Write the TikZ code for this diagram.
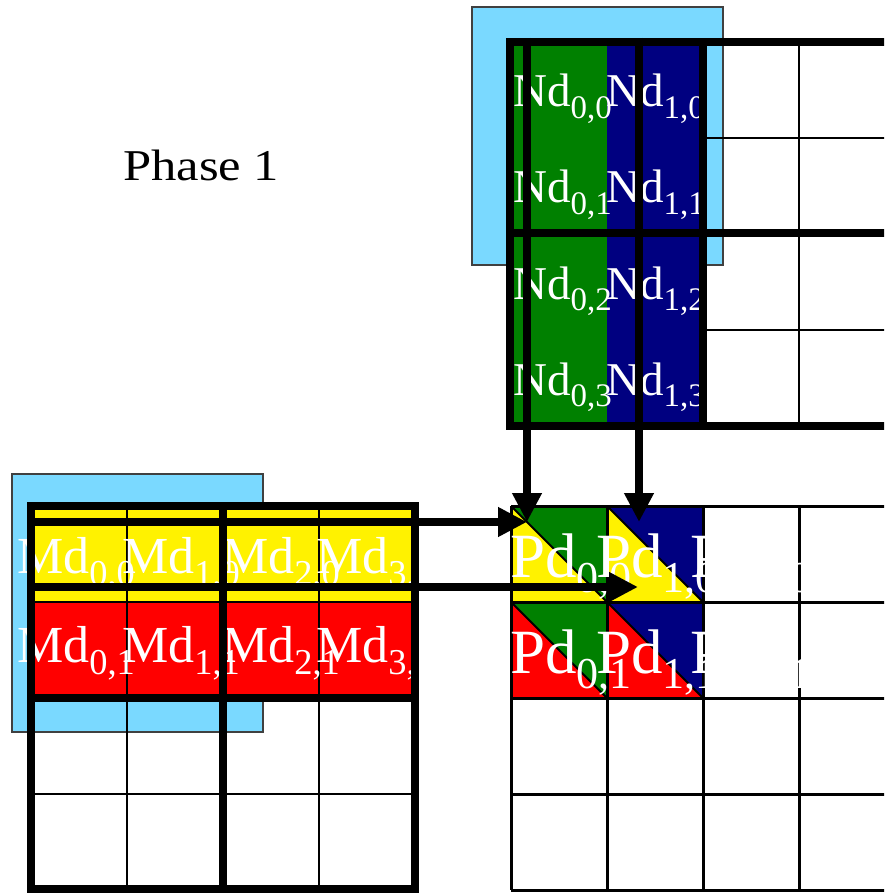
\documentclass[tikz,border=0pt]{standalone}
\usepackage{fontspec}
\setmainfont{Liberation Serif}
\usepackage{graphicx}
\usetikzlibrary{arrows.meta}
\definecolor{lblue}{RGB}{122,217,255}
\definecolor{dgreen}{RGB}{0,128,0}
\definecolor{navyblue}{RGB}{0,0,128}
\newcommand{\lsub}[1]{\raisebox{-0.24em}{\scalebox{0.7}{#1}}}
\begin{document}
\begin{tikzpicture}[x=1pt,y=-1pt,
  thickline/.style={line width=8.5pt},
  thinline/.style={line width=2.5pt},
  pline/.style={line width=3pt},
  bluebox/.style={fill=lblue, draw=black!75, line width=1.5pt},
  lab/.style={anchor=base west, inner sep=0pt, text=white},
  nfont/.style={font=\fontsize{47}{56}\selectfont},
  mfont/.style={font=\fontsize{52}{60}\selectfont},
  pfont/.style={font=\fontsize{63}{70}\selectfont},
  arr/.style={line width=8.5pt, -{Triangle[length=29pt,width=28pt]}}]
\useasboundingbox (0,0) rectangle (884,893);
\clip (0,0) rectangle (884,893);

% title
\node[anchor=base west, inner sep=0pt, font=\fontsize{44}{50}\selectfont] (phase) at (123,181) {\scalebox{1.15}[1]{Phase 1}};

% ---------- N matrix ----------
\draw[bluebox] (472,7) rectangle (723,265);
\draw[thinline] (510,138) -- (950,138);
\draw[thinline] (510,330) -- (950,330);
\draw[thinline] (799,42) -- (799,426);
\fill[dgreen] (510,42) rectangle (607,426);
\fill[navyblue] (607,42) rectangle (703,426);
\foreach \j in {0,...,3}{
  \node[lab, nfont] (nd0\j) at (513,107+96*\j) {Nd\lsub{0,\j}};
  \node[lab, nfont] (nd1\j) at (606,107+96*\j) {Nd\lsub{1,\j}};
}
\draw[thickline] (510,42) rectangle (990,426);
\draw[thickline] (510,233) -- (990,233);
\draw[thickline] (703,42) -- (703,426);

% ---------- M matrix ----------
\draw[bluebox] (12,474) rectangle (263,732);
\fill[yellow] (31,506) rectangle (415,602);
\fill[red] (31,602) rectangle (415,698);
\draw[thinline] (127,506) -- (127,889);
\draw[thinline] (319,506) -- (319,889);
\draw[thinline] (31,602) -- (415,602);
\draw[thinline] (31,794) -- (415,794);
\foreach \i/\x in {0/17,1/122,2/222,3/316}{
  \node[lab, mfont] (md\i0) at (\x,573) {Md\lsub{\i,0}};
  \node[lab, mfont] (md\i1) at (\x,662) {Md\lsub{\i,1}};
}
\draw[thickline] (31,506) rectangle (415,889);
\draw[thickline] (223,506) -- (223,889);
\draw[thickline] (31,698) -- (415,698);

% ---------- P matrix ----------
\fill[dgreen] (511,506) -- (607,506) -- (607,602) -- cycle;
\fill[yellow] (511,506) -- (511,602) -- (607,602) -- cycle;
\fill[navyblue] (607,506) -- (703,506) -- (703,602) -- cycle;
\fill[yellow] (607,506) -- (607,602) -- (703,602) -- cycle;
\fill[dgreen] (511,602) -- (607,602) -- (607,698) -- cycle;
\fill[red] (511,602) -- (511,698) -- (607,698) -- cycle;
\fill[navyblue] (607,602) -- (703,602) -- (703,698) -- cycle;
\fill[red] (607,602) -- (607,698) -- (703,698) -- cycle;
\draw[line width=2pt] (511,506) -- (607,602) (607,506) -- (703,602)
  (511,602) -- (607,698) (607,602) -- (703,698);
\foreach \x in {511,607,703,799}{ \draw[pline] (\x,506) -- (\x,890); }
\foreach \y in {506,602,698,794,890}{ \draw[pline] (511,\y) -- (950,\y); }
\foreach \i/\x in {0/510,1/596,2/690}{
  \foreach \j in {0,1}{
    \node[lab, pfont] (pd\i\j) at (\x,577+96*\j) {Pd\lsub{\i,\j}};
  }
}

% ---------- arrows ----------
\coordinate (na) at (527,38);
\coordinate (pa) at (527,522);
\coordinate (nb) at (639,38);
\coordinate (pb) at (639,522);
\coordinate (ma) at (27,522);
\coordinate (qa) at (527,522);
\coordinate (mb) at (27,587);
\coordinate (qb) at (638,587);
\draw[arr] (na) -- (pa);
\draw[arr] (nb) -- (pb);
\draw[arr] (ma) -- (qa);
\draw[arr] (mb) -- (qb);
\end{tikzpicture}
\end{document}
